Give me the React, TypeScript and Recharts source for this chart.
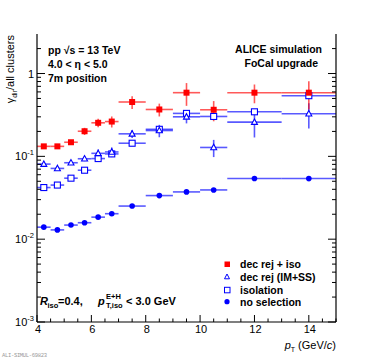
import React from "react";
import { ScatterChart, Scatter, XAxis, YAxis, ErrorBar } from "recharts";

// pT bins (GeV/c): centres and half widths
const ptCenters = [4.25, 4.75, 5.25, 5.75, 6.25, 6.75, 7.5, 8.5, 9.5, 10.5, 12, 14];
const ptHalfWidths = [0.25, 0.25, 0.25, 0.25, 0.25, 0.25, 0.5, 0.5, 0.5, 0.5, 1, 1];

// gamma_dir / all clusters
const decRejIso = [0.132, 0.132, 0.148, 0.201, 0.254, 0.263, 0.453, 0.368, 0.587, 0.365, 0.587, 0.587];
const decRejIsoErr = [0.006, 0.006, 0.01, 0.02, 0.03, 0.04, 0.08, 0.065, 0.18, 0.1, 0.15, 0.22];
const decRej = [0.0806, 0.0715, 0.0837, 0.0935, 0.1087, 0.113, 0.187, 0.205, 0.3, 0.128, 0.259, 0.327];
const decRejErr = [0.003, 0.003, 0.004, 0.006, 0.012, 0.015, 0.02, 0.035, 0.05, 0.03, 0.09, 0.11];
const isolation = [0.042, 0.045, 0.0545, 0.068, 0.094, 0.107, 0.144, 0.212, 0.33, 0.303, 0.345, 0.54];
const isolationErr = [0.001, 0.0015, 0.002, 0.003, 0.004, 0.006, 0.008, 0.012, 0.02, 0.02, 0.02, 0.03];
const noSelection = [0.01396, 0.01294, 0.0148, 0.0158, 0.01845, 0.0203, 0.0251, 0.0336, 0.0372, 0.0393, 0.054, 0.054];
const noSelectionErr = [0.0003, 0.0003, 0.0004, 0.0004, 0.0005, 0.0006, 0.0008, 0.001, 0.0015, 0.002, 0.003, 0.004];

// axis ticks
const xTicks = [4, 4.5, 5, 5.5, 6, 6.5, 7, 7.5, 8, 8.5, 9, 9.5, 10, 10.5, 11, 11.5, 12, 12.5, 13, 13.5, 14, 14.5, 15];
const xLabels = [4, 6, 8, 10, 12, 14];
const yDecades = [0.001, 0.01, 0.1, 1];
const yMinorSteps = [2, 3, 4, 5, 6, 7, 8, 9];
const yTicks = yDecades
  .flatMap((d) => [d, ...yMinorSteps.map((m) => m * d)])
  .filter((v) => v <= 2.5);

const W = 374;
const H = 359;
const PLOT_LEFT = 37;
const PLOT_RIGHT = 336;
const PLOT_TOP = 34;
const PLOT_BOTTOM = 322;
const FONT = "'Liberation Sans', Arial, Helvetica, sans-serif";
const RED = "#ff0000";
const BLUE = "#0000ff";

const points = (vals: number[], errs: number[]) =>
  ptCenters.map((x, i) => ({ x, y: vals[i], ex: ptHalfWidths[i], ey: errs[i] }));

const isDecade = (v: number) => {
  const lg = Math.log10(v);
  return Math.abs(lg - Math.round(lg)) < 1e-6;
};

function LeftTick({ y, payload }: any) {
  const v = payload.value;
  const major = isDecade(v);
  const exp = Math.round(Math.log10(v));
  return (
    <g>
      <line x1={PLOT_LEFT} x2={PLOT_LEFT + (major ? 8 : 4)} y1={y} y2={y} stroke="#000" />
      {major && (
        <text x={34} y={y + 4} textAnchor="end" fontFamily={FONT} fontSize={11} fill="#000">
          {exp === 0 ? "1" : "10"}
          {exp !== 0 && (
            <tspan dy={-5} fontSize={7.5}>
              {exp}
            </tspan>
          )}
        </text>
      )}
    </g>
  );
}

function RightTick({ y, payload }: any) {
  const major = isDecade(payload.value);
  return <line x1={PLOT_RIGHT} x2={PLOT_RIGHT - (major ? 8 : 4)} y1={y} y2={y} stroke="#000" />;
}

function BottomTick({ x, payload }: any) {
  const v = payload.value;
  const major = xLabels.includes(v);
  return (
    <g>
      <line x1={x} x2={x} y1={PLOT_BOTTOM} y2={PLOT_BOTTOM - (major ? 7 : 3.5)} stroke="#000" />
      {major && (
        <text x={x + 1} y={PLOT_BOTTOM + 11} textAnchor="middle" fontFamily={FONT} fontSize={11} fill="#000">
          {v}
        </text>
      )}
    </g>
  );
}

const RedSquare = ({ cx, cy }: any) => <rect x={cx - 3} y={cy - 3} width={6} height={6} fill={RED} />;
const OpenTriangle = ({ cx, cy }: any) => (
  <polygon
    points={`${cx},${cy - 3.2} ${cx - 3},${cy + 2.3} ${cx + 3},${cy + 2.3}`}
    fill="#fff"
    stroke={BLUE}
    strokeWidth={1.1}
  />
);
const OpenSquare = ({ cx, cy }: any) => (
  <rect x={cx - 3} y={cy - 3} width={6} height={6} fill="#fff" stroke={BLUE} strokeWidth={1.1} />
);
const FilledCircle = ({ cx, cy }: any) => <circle cx={cx} cy={cy} r={2.8} fill={BLUE} />;

function Bars({ color }: { color: string }) {
  return (
    <>
      <ErrorBar dataKey="ex" direction="x" width={0} stroke={color} strokeOpacity={0.65} strokeWidth={1.6} />
      <ErrorBar dataKey="ey" direction="y" width={0} stroke={color} strokeOpacity={0.65} strokeWidth={1.6} />
    </>
  );
}

export default function App() {
  const txt = { fontFamily: FONT, fill: "#000" };
  return (
    <div style={{ position: "absolute", left: 0, top: 0, width: W, height: H, background: "#fff" }}>
      <ScatterChart width={W} height={H} margin={{ top: PLOT_TOP, right: 0, bottom: 0, left: 0 }}>
        <XAxis
          dataKey="x"
          type="number"
          domain={[4, 15]}
          ticks={xTicks}
          interval={0}
          tick={<BottomTick />}
          tickLine={false}
          axisLine={{ stroke: "#000", strokeWidth: 1.2 }}
          height={H - PLOT_BOTTOM}
          allowDataOverflow
        />
        <XAxis
          xAxisId="top"
          orientation="top"
          type="number"
          domain={[4, 15]}
          tick={false}
          tickLine={false}
          axisLine={{ stroke: "#000", strokeWidth: 1.2 }}
          height={0}
        />
        <YAxis
          dataKey="y"
          type="number"
          scale="log"
          domain={[0.001, 3]}
          ticks={yTicks}
          interval={0}
          tick={<LeftTick />}
          tickLine={false}
          axisLine={{ stroke: "#000", strokeWidth: 1.2 }}
          width={PLOT_LEFT}
          allowDataOverflow
        />
        <YAxis
          yAxisId="right"
          orientation="right"
          type="number"
          scale="log"
          domain={[0.001, 3]}
          ticks={yTicks}
          interval={0}
          tick={<RightTick />}
          tickLine={false}
          axisLine={{ stroke: "#000", strokeWidth: 1.2 }}
          width={W - PLOT_RIGHT}
          allowDataOverflow
        />
        <Scatter data={points(noSelection, noSelectionErr)} shape={<FilledCircle />} isAnimationActive={false}>
          <Bars color={BLUE} />
        </Scatter>
        <Scatter data={points(isolation, isolationErr)} shape={<OpenSquare />} isAnimationActive={false}>
          <Bars color={BLUE} />
        </Scatter>
        <Scatter data={points(decRej, decRejErr)} shape={<OpenTriangle />} isAnimationActive={false}>
          <Bars color={BLUE} />
        </Scatter>
        <Scatter data={points(decRejIso, decRejIsoErr)} shape={<RedSquare />} isAnimationActive={false}>
          <Bars color={RED} />
        </Scatter>
      </ScatterChart>

      <svg
        width={W}
        height={H}
        style={{ position: "absolute", left: 0, top: 0, pointerEvents: "none" }}
      >
        {/* y-axis title */}
        <text transform="rotate(-90)" x={-PLOT_TOP - 1} y={14} textAnchor="end" fontSize={11} {...txt}>
          γ<tspan dy={3} fontSize={7}>dir</tspan>
          <tspan dy={-3}>/all clusters</tspan>
        </text>

        {/* system labels */}
        <g fontWeight="bold" fontSize={10.5} {...txt}>
          <text x={48} y={54}>pp  √s = 13 TeV</text>
          <text x={48} y={68}>4.0 &lt; η &lt; 5.0</text>
          <text x={48} y={82}>7m position</text>
          <text x={322} y={53} textAnchor="end">ALICE simulation</text>
          <text x={318} y={67} textAnchor="end">FoCal upgrade</text>
        </g>

        {/* legend */}
        <rect x={224.5} y={261.5} width={5.5} height={5.5} fill={RED} />
        <polygon points="227,274 224.5,278.8 229.5,278.8" fill="#fff" stroke={BLUE} strokeWidth={1} />
        <rect x={224.5} y={287.3} width={5.5} height={5.5} fill="#fff" stroke={BLUE} strokeWidth={1} />
        <circle cx={227} cy={301.7} r={2.6} fill={BLUE} />
        <g fontWeight="bold" fontSize={10.5} {...txt}>
          <text x={240} y={268}>dec rej + iso</text>
          <text x={240} y={281}>dec rej (IM+SS)</text>
          <text x={240} y={294}>isolation</text>
          <text x={240} y={305.5}>no selection</text>
        </g>

        {/* isolation cut */}
        <g fontWeight="bold" {...txt}>
          <text x={40} y={305} fontSize={11} fontStyle="italic">R</text>
          <text x={47.5} y={307.5} fontSize={7.5}>iso</text>
          <text x={58} y={305} fontSize={11}>=0.4,</text>
          <text x={98} y={305} fontSize={11} fontStyle="italic">p</text>
          <text x={106} y={299} fontSize={7.5}>E+H</text>
          <text x={106} y={308} fontSize={7.5}>T,iso</text>
          <text x={126} y={305} fontSize={11}>&lt; 3.0 GeV</text>
        </g>

        {/* x-axis title */}
        <text x={336} y={349} textAnchor="end" fontSize={11} {...txt}>
          <tspan fontStyle="italic">p</tspan>
          <tspan dy={3} fontSize={7}>T</tspan>
          <tspan dy={-3}> (GeV/</tspan>
          <tspan fontStyle="italic">c</tspan>)
        </text>

        <text x={2} y={357} fontFamily="'Liberation Mono', 'DejaVu Sans Mono', monospace" fontSize={5.5} fill="#999" textLength={45}>
          ALI-SIMUL-69823
        </text>
      </svg>
    </div>
  );
}
